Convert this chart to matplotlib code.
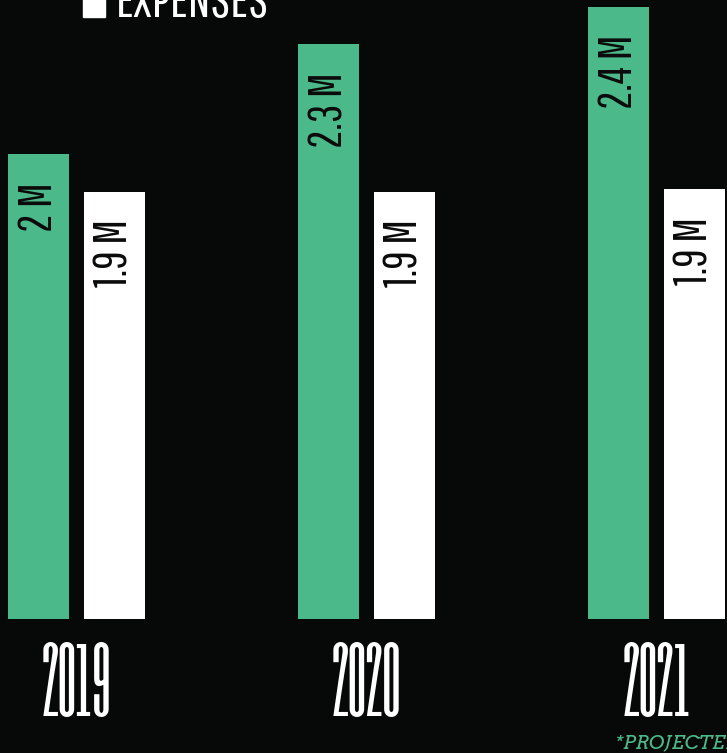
import matplotlib
matplotlib.use('Agg')
import numpy as np
import matplotlib.pyplot as plt
from matplotlib.patches import Rectangle

# values (bar heights in millions) and the printed labels
years = ['2019', '2020', '2021']
revenue = [1.86, 2.30, 2.45]
expenses = [1.71, 1.71, 1.72]
revenue_labels = ['2 M', '2.3 M', '2.4 M']
expense_labels = ['1.9 M', '1.9 M', '1.9 M']

BG = '#070908'
GREEN = '#4cb98a'
COND = 'Pathway Gothic One'
YEAR_FONT = 'Six Caps'

fig = plt.figure(figsize=(7.27, 7.53), dpi=100, facecolor=BG)
ax = fig.add_axes([0, 0, 1, 1], facecolor=BG)

x = np.arange(len(years))
width = 0.21
offset = 0.13
green_bars = ax.bar(x - offset, revenue, width, color=GREEN)
white_bars = ax.bar(x + offset, expenses, width, color='white')

# value labels, rotated, hanging from the top of each bar
for bars, labels in [(green_bars, revenue_labels), (white_bars, expense_labels)]:
    for bar, lab in zip(bars, labels):
        ax.annotate(lab, (bar.get_x() + bar.get_width() / 2, bar.get_height()),
                    xytext=(0, -20), textcoords='offset points', rotation=90,
                    ha='center', va='top', family=COND, fontsize=33, color='#0a0a0a')

# year labels under each group
for xi, yr in zip(x, years):
    ax.text(xi, -0.388, yr, ha='center', va='baseline', family=YEAR_FONT,
            fontsize=61, color='white')

ax.set_xlim(-0.264, 2.243)
ax.set_ylim(-0.536, 2.476)
ax.axis('off')

# legend (cut off at the top like the original)
fig.patches.append(Rectangle((83 / 727, 1 - 17 / 753), 22 / 727, 30 / 753,
                             transform=fig.transFigure, color='white'))
fig.text(116 / 727, 1 - 17 / 753, 'EXPENSES', family=COND, fontsize=36,
         color='white', va='baseline')

fig.text(615 / 727, 1 - 749 / 753, '*PROJECTED', family='Arvo', style='italic',
         fontsize=14, color=GREEN, va='baseline')

fig.savefig('out.png', dpi=100, facecolor=BG)
